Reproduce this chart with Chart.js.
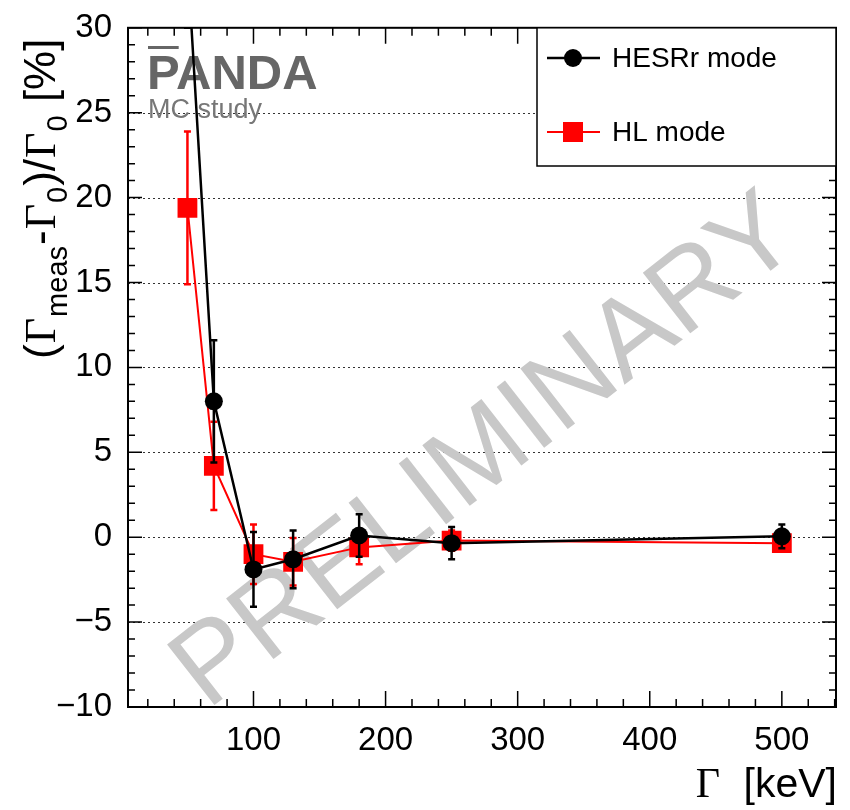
<!DOCTYPE html>
<html><head><meta charset="utf-8">
<script src="https://cdn.jsdelivr.net/npm/chart.js@4.4.1/dist/chart.umd.min.js"></script>
<style>html,body{margin:0;padding:0;background:#fff;}#wrap{width:850px;height:810px;}</style>
</head><body><div id="wrap"><canvas id="c" width="850" height="810"></canvas></div>
<script>
// ---- data ----
const widths = [50, 70, 100, 130, 180, 250, 500];            // Γ [keV]
const hesrValues = [34.0, 8.0, -1.9, -1.3, 0.1, -0.35, 0.05];  // HESRr mode [%]
const hesrErrors = [4.0, 3.6, 2.2, 1.7, 1.25, 0.95, 0.7];
const hlValues = [19.4, 4.2, -1.0, -1.45, -0.6, -0.2, -0.35];  // HL mode [%]
const hlErrors = [4.5, 2.6, 1.75, 1.4, 1.0, 0.6, 0.5];
const xTickValues = [100, 200, 300, 400, 500];
const yTickValues = [-10, -5, 0, 5, 10, 15, 20, 25, 30];
const seriesNames = ['HESRr mode', 'HL mode'];

const SANS = "'Liberation Sans', Arial, sans-serif";
const SERIF = "'Liberation Serif', 'Times New Roman', serif";

const toPoints = (vals) => widths.map((x, i) => ({ x: x, y: vals[i] }));

const decoPlugin = {
  id: 'deco',
  beforeDatasetsDraw(chart) {
    const { ctx, chartArea: a, scales: { y } } = chart;
    ctx.save();
    // dotted horizontal grid
    ctx.strokeStyle = '#333';
    ctx.lineWidth = 1;
    ctx.setLineDash([2, 3]);
    yTickValues.forEach(v => {
      if (v === y.min || v === y.max) return;
      const py = Math.round(y.getPixelForValue(v)) + 0.5;
      ctx.beginPath(); ctx.moveTo(a.left, py); ctx.lineTo(a.right, py); ctx.stroke();
    });
    ctx.setLineDash([]);
    // PRELIMINARY watermark
    ctx.save();
    ctx.translate(481, 446);
    ctx.rotate(-38 * Math.PI / 180);
    ctx.font = '112px ' + SANS;
    ctx.fillStyle = 'rgb(200,200,200)';
    ctx.textAlign = 'center';
    ctx.textBaseline = 'alphabetic';
    ctx.fillText('PRELIMINARY', 0, 0.358 * 112);
    ctx.restore();
    // PANDA logo
    ctx.fillStyle = '#666';
    ctx.font = 'bold 49px ' + SANS;
    ctx.textAlign = 'left';
    ctx.textBaseline = 'alphabetic';
    ctx.fillText('PANDA', 147, 89);
    const pw = ctx.measureText('P').width;
    ctx.fillRect(148, 46, pw - 2, 3);
    ctx.fillStyle = '#777';
    ctx.font = '27px ' + SANS;
    ctx.fillText('MC study', 148, 118);
    ctx.restore();
  },
  afterDatasetDraw(chart, args) {
    const ds = chart.data.datasets[args.index];
    const { ctx, chartArea: a, scales: { x, y } } = chart;
    ctx.save();
    ctx.beginPath(); ctx.rect(a.left, a.top, a.right - a.left, a.bottom - a.top); ctx.clip();
    ctx.strokeStyle = ds.borderColor;
    ctx.lineWidth = 2.5;
    ds.data.forEach((p, i) => {
      const e = ds.errors[i];
      const px = x.getPixelForValue(p.x);
      const y1 = y.getPixelForValue(p.y + e), y2 = y.getPixelForValue(p.y - e);
      ctx.beginPath();
      ctx.moveTo(px, y1); ctx.lineTo(px, y2);
      ctx.moveTo(px - 3.5, y1); ctx.lineTo(px + 3.5, y1);
      ctx.moveTo(px - 3.5, y2); ctx.lineTo(px + 3.5, y2);
      ctx.stroke();
    });
    ctx.restore();
  },
  afterDraw(chart) {
    const { ctx, chartArea: a, scales: { x, y } } = chart;
    ctx.save();
    ctx.strokeStyle = '#000';
    ctx.lineWidth = 1.5;
    // ticks on all four sides, pointing inward
    const xTick = (v, len) => {
      const px = x.getPixelForValue(v);
      ctx.moveTo(px, a.bottom); ctx.lineTo(px, a.bottom - len);
      ctx.moveTo(px, a.top); ctx.lineTo(px, a.top + len);
    };
    const yTick = (v, len) => {
      const py = y.getPixelForValue(v);
      ctx.moveTo(a.left, py); ctx.lineTo(a.left + len, py);
      ctx.moveTo(a.right, py); ctx.lineTo(a.right - len, py);
    };
    ctx.beginPath();
    for (let v = 20; v < x.max; v += 20) xTick(v, v % 100 === 0 ? 16 : 8);
    for (let v = y.min; v <= y.max; v += 1) yTick(v, v % 5 === 0 ? 14 : 7);
    ctx.stroke();
    // frame
    ctx.lineWidth = 2;
    ctx.strokeRect(a.left, a.top, a.right - a.left, a.bottom - a.top);

    // legend box
    const lx = 537, ly = a.top, lw = a.right - 537, lh = 166 - a.top;
    ctx.fillStyle = '#fff';
    ctx.fillRect(lx, ly, lw, lh);
    ctx.lineWidth = 1.5;
    ctx.strokeRect(lx, ly, lw, lh);
    const ds = chart.data.datasets;
    const rows = [58, 132];
    ctx.font = '28px ' + SANS;
    ctx.textBaseline = 'middle';
    ctx.textAlign = 'left';
    rows.forEach((ry, i) => {
      const d = ds[i];
      ctx.strokeStyle = d.borderColor;
      ctx.lineWidth = d.borderWidth;
      ctx.beginPath(); ctx.moveTo(547, ry); ctx.lineTo(600, ry); ctx.stroke();
      ctx.fillStyle = d.backgroundColor;
      if (d.pointStyle === 'circle') {
        ctx.beginPath(); ctx.arc(573, ry, 9, 0, Math.PI * 2); ctx.fill();
      } else {
        ctx.fillRect(573 - 10, ry - 10, 20, 20);
      }
      ctx.fillStyle = '#000';
      ctx.fillText(d.label, 612, ry + 1);
    });

    // x title
    ctx.fillStyle = '#000';
    ctx.textBaseline = 'alphabetic';
    ctx.textAlign = 'right';
    ctx.font = '41px ' + SANS;
    ctx.fillText('[keV]', 837, 797);
    ctx.font = '42px ' + SERIF;
    ctx.fillText('\u0393', 720, 797);

    // y title (rotated)
    ctx.save();
    ctx.translate(55, 359);
    ctx.rotate(-Math.PI / 2);
    const M = 44, S = 29, sub = 12;
    const pieces = [
      ['(', SANS, M, 0], ['\u0393', SERIF, M, 0], ['meas', SANS, S, sub],
      ['-', SANS, M, 0], ['\u0393', SERIF, M, 0], ['0', SANS, S, sub],
      [')/', SANS, M, 0], ['\u0393', SERIF, M, 0], ['0', SANS, S, sub],
      [' [%]', SANS, M, 0]
    ];
    ctx.textAlign = 'left';
    let tx = 0;
    pieces.forEach(([t, f, s, dy]) => {
      ctx.font = s + 'px ' + f;
      ctx.fillText(t, tx, dy);
      tx += ctx.measureText(t).width + 1;
    });
    ctx.restore();
    ctx.restore();
  }
};

new Chart(document.getElementById('c').getContext('2d'), {
  type: 'scatter',
  data: {
    datasets: [
      { label: seriesNames[0], data: toPoints(hesrValues), errors: hesrErrors, showLine: true,
        borderColor: '#000', backgroundColor: '#000', borderWidth: 2.5,
        pointStyle: 'circle', pointRadius: 9, pointHoverRadius: 9, pointBorderWidth: 0 },
      { label: seriesNames[1], data: toPoints(hlValues), errors: hlErrors, showLine: true,
        borderColor: '#ff0000', backgroundColor: '#ff0000', borderWidth: 2,
        pointStyle: 'rect', pointRadius: 14, pointHoverRadius: 14, pointBorderWidth: 0 }
    ]
  },
  options: {
    responsive: false, animation: false, events: [],
    layout: { padding: { top: 22, right: 11, left: 0, bottom: 0 } },
    plugins: { legend: { display: false }, tooltip: { enabled: false } },
    scales: {
      x: {
        type: 'linear', min: 5, max: 541,
        afterBuildTicks: s => { s.ticks = xTickValues.map(v => ({ value: v })); },
        afterFit: s => { s.height = 103; },
        grid: { display: false }, border: { display: false },
        ticks: { font: { family: SANS, size: 33 }, color: '#000', padding: 6, maxRotation: 0, autoSkip: false }
      },
      y: {
        type: 'linear', min: -10, max: 30,
        afterBuildTicks: s => { s.ticks = yTickValues.map(v => ({ value: v })); },
        afterFit: s => { s.width = 128; },
        grid: { display: false }, border: { display: false },
        ticks: { font: { family: SANS, size: 33 }, color: '#000', padding: 8, autoSkip: false,
          callback: v => String(v).replace('-', '\u2212') }
      }
    }
  },
  plugins: [decoPlugin]
});
</script></body></html>
